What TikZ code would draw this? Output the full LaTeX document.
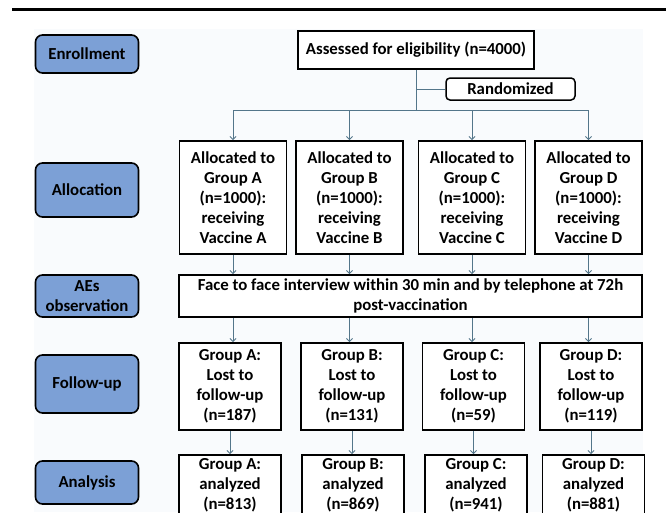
\documentclass[tikz,border=0pt]{standalone}
\usepackage{fontspec}
\setmainfont{Carlito}
\usetikzlibrary{arrows.meta}
\definecolor{stageblue}{RGB}{124,160,214}
\definecolor{connline}{RGB}{84,118,138}
\definecolor{panelbg}{RGB}{249,251,253}
\tikzset{
  stage/.style={draw=black,line width=1.6pt,rounded corners=7pt,fill=stageblue,align=center,minimum width=103pt,inner sep=1pt},
  box/.style={draw=black,line width=1.8pt,fill=white,align=center,inner sep=1pt},
  conn/.style={draw=connline,line width=0.9pt},
  arr/.style={conn,-{Straight Barb[length=3pt,width=6pt]}}
}
\begin{document}
\begin{tikzpicture}[x=1pt,y=-1pt,font=\fontsize{16.8}{20}\selectfont\bfseries]
\useasboundingbox(0,0)rectangle(666,512);
\clip(0,0)rectangle(666,512);
\draw[line width=3pt](12,9.5)--(666,9.5);
\fill[panelbg](34,29)rectangle(643,512);
% stages
\node[stage,minimum height=38pt](enr)at(87,54){Enrollment};
\node[stage,minimum height=54pt](alc)at(87,190){Allocation};
\node[stage,minimum height=42pt](aes)at(87,296){AEs\\observation};
\node[stage,minimum height=58pt](fol)at(87,384){Follow-up};
\node[stage,minimum height=43pt](ana)at(87,482.5){Analysis};
% enrollment
\node[box,minimum width=236pt,minimum height=38pt](ass)at(416,50){Assessed for eligibility (n=4000)};
\node[box,rounded corners=4pt,line width=1.5pt,minimum width=129pt,minimum height=22pt](rnd)at(510.5,89){Randomized};
\coordinate(bar)at(416,110);
% allocation
\node[box,minimum width=107pt,minimum height=113pt](a1)at(233,197.5){Allocated to\\Group A\\(n=1000):\\receiving\\Vaccine A};
\node[box,minimum width=107pt,minimum height=113pt](a2)at(349.5,197.5){Allocated to\\Group B\\(n=1000):\\receiving\\Vaccine B};
\node[box,minimum width=107pt,minimum height=113pt](a3)at(472,197.5){Allocated to\\Group C\\(n=1000):\\receiving\\Vaccine C};
\node[box,minimum width=107pt,minimum height=113pt](a4)at(588.5,197.5){Allocated to\\Group D\\(n=1000):\\receiving\\Vaccine D};
% AEs
\node[box,minimum width=463pt,minimum height=42pt](face)at(410.5,296){Face to face interview within 30 min and by telephone at 72h\\post-vaccination};
% follow-up
\node[box,minimum width=102pt,minimum height=87pt](f1)at(230,386.5){Group A:\\Lost to\\follow-up\\(n=187)};
\node[box,minimum width=102pt,minimum height=87pt](f2)at(352,386.5){Group B:\\Lost to\\follow-up\\(n=131)};
\node[box,minimum width=102pt,minimum height=87pt](f3)at(473.5,386.5){Group C:\\Lost to\\follow-up\\(n=59)};
\node[box,minimum width=102pt,minimum height=87pt](f4)at(591,386.5){Group D:\\Lost to\\follow-up\\(n=119)};
% analysis
\node[box,minimum width=102pt,minimum height=60pt](n1)at(230,485){Group A:\\analyzed\\(n=813)};
\node[box,minimum width=102pt,minimum height=60pt](n2)at(353,485){Group B:\\analyzed\\(n=869)};
\node[box,minimum width=102pt,minimum height=60pt](n3)at(476,485){Group C:\\analyzed\\(n=941)};
\node[box,minimum width=102pt,minimum height=60pt](n4)at(593.5,485){Group D:\\analyzed\\(n=881)};
% connectors
\draw[conn](ass.south)--(bar);
\draw[conn](bar|-rnd)--(rnd.west);
\draw[conn](a1.north|-bar)--(a4.north|-bar);
\draw[arr](a1.north|-bar)--(a1.north);
\draw[arr](a2.north|-bar)--(a2.north);
\draw[arr](a3.north|-bar)--(a3.north);
\draw[arr](a4.north|-bar)--(a4.north);
\draw[arr](a1.south)--(a1.south|-face.north);
\draw[arr](a2.south)--(a2.south|-face.north);
\draw[arr](a3.south)--(a3.south|-face.north);
\draw[arr](a4.south)--(a4.south|-face.north);
\draw[arr](a1.south|-face.south)--(a1.south|-f1.north);
\draw[arr](a2.south|-face.south)--(a2.south|-f2.north);
\draw[arr](a3.south|-face.south)--(a3.south|-f3.north);
\draw[arr](a4.south|-face.south)--(a4.south|-f4.north);
\draw[arr](f1.south)--(f1.south|-n1.north);
\draw[arr](f2.south)--(f2.south|-n2.north);
\draw[arr](f3.south)--(f3.south|-n3.north);
\draw[arr](f4.south)--(f4.south|-n4.north);
\end{tikzpicture}
\end{document}
